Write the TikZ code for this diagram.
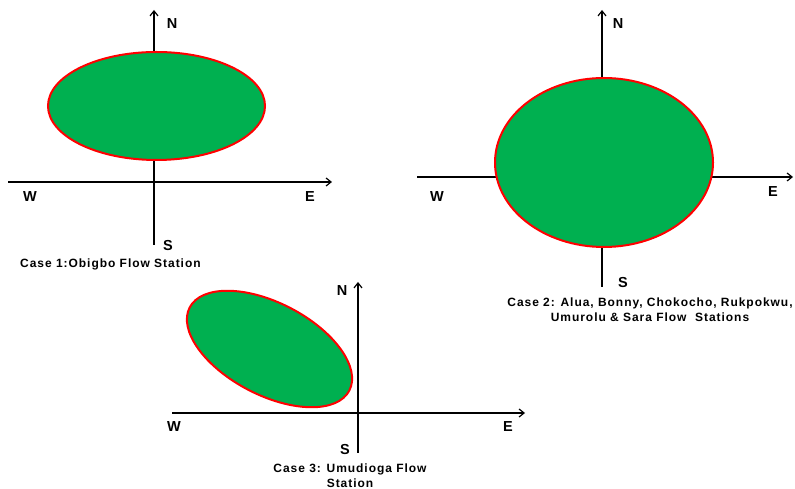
\documentclass[tikz,border=0pt]{standalone}
\usepackage{fontspec}
\setmainfont{Liberation Sans}
\newfontfamily\capfont[LetterSpace=8]{Liberation Sans}
\usetikzlibrary{arrows.meta}
\definecolor{zonegreen}{RGB}{0,176,80}
\definecolor{zonered}{RGB}{255,0,0}
\tikzset{
  axisarrow/.style={-{Straight Barb[length=5pt, width=8pt]}, line width=1.2pt, color=black},
  zone/.style={draw=zonered, fill=zonegreen, line width=2pt},
  dirlabel/.style={font=\bfseries\fontsize{14.5}{16}\selectfont, inner sep=0pt},
  caselabel/.style={font=\capfont\bfseries\fontsize{12}{15}\selectfont, inner sep=0pt, align=center}
}
\begin{document}
\begin{tikzpicture}[x=1pt, y=1pt]
  \useasboundingbox (0,0) rectangle (795,489);

  % Case 1
  \coordinate (c1n) at (154,479);
  \coordinate (c1s) at (154,244);
  \coordinate (c1w) at (8,307);
  \coordinate (c1e) at (332,307);
  \draw[axisarrow] (c1s) -- (c1n);
  \draw[axisarrow] (c1w) -- (c1e);
  \draw[zone] (156.5,383) ellipse [x radius=108.5, y radius=54];
  \node[dirlabel] (n1) at (172,465) {N};
  \node[dirlabel] (w1) at (30,292) {W};
  \node[dirlabel] (e1) at (310,292) {E};
  \node[dirlabel] (s1) at (168,243) {S};
  \node[caselabel, anchor=west] (case1) at (20,225) {Case 1:Obigbo Flow Station};

  % Case 2
  \coordinate (c2n) at (602,479);
  \coordinate (c2s) at (602,202);
  \coordinate (c2w) at (417,312);
  \coordinate (c2e) at (793,312);
  \draw[axisarrow] (c2s) -- (c2n);
  \draw[axisarrow] (c2w) -- (c2e);
  \draw[zone] (604,326.5) ellipse [x radius=109, y radius=84.5];
  \node[dirlabel] (n2) at (618,465) {N};
  \node[dirlabel] (w2) at (437,292) {W};
  \node[dirlabel] (e2) at (773,297) {E};
  \node[dirlabel] (s2) at (623,206) {S};
  \node[caselabel] (case2) at (650,179) {Case 2: Alua, Bonny, Chokocho, Rukpokwu,\\Umurolu \& Sara Flow \ Stations};

  % Case 3
  \coordinate (c3n) at (358,207);
  \coordinate (c3s) at (358,36);
  \coordinate (c3w) at (172,76);
  \coordinate (c3e) at (525,76);
  \draw[axisarrow] (c3s) -- (c3n);
  \draw[axisarrow] (c3w) -- (c3e);
  \draw[zone, rotate around={-27.5:(269.5,140)}] (269.5,140) ellipse [x radius=90, y radius=46];
  \node[dirlabel] (n3) at (342,198) {N};
  \node[dirlabel] (w3) at (174,62) {W};
  \node[dirlabel] (e3) at (508,62) {E};
  \node[dirlabel] (s3) at (345,39) {S};
  \node[caselabel] (case3) at (350,13) {Case 3: Umudioga Flow\\Station};
\end{tikzpicture}
\end{document}
